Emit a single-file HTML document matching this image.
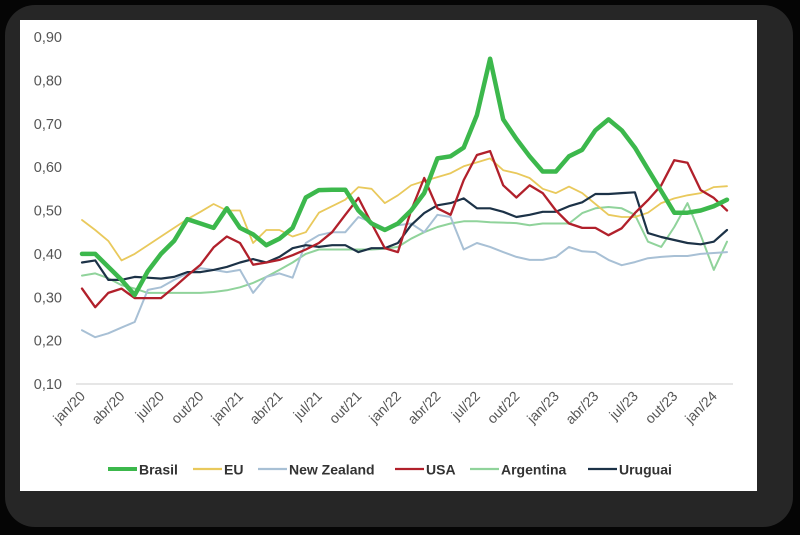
<!DOCTYPE html>
<html><head><meta charset="utf-8"><style>
html,body{margin:0;padding:0;background:#050505;width:800px;height:535px;overflow:hidden}
svg{display:block}
text{font-family:"Liberation Sans",sans-serif}
</style></head><body>
<svg id="chart" width="800" height="535" viewBox="0 0 800 535" xmlns="http://www.w3.org/2000/svg">
<rect x="5" y="5" width="788" height="522" rx="30" fill="#262626"/>
<rect x="20" y="20" width="737" height="471" fill="#ffffff"/>
<g id="axes"></g><g id="series"></g><g id="legend"></g>
</svg>
<script>
const months = ["jan","fev","mar","abr","mai","jun","jul","ago","set","out","nov","dez"];
const yTicks = [0.10,0.20,0.30,0.40,0.50,0.60,0.70,0.80,0.90];
const seriesNames = ["Argentina","New Zealand","EU","Uruguai","USA","Brasil"];
const brasil = [0.40,0.40,0.37,0.34,0.305,0.36,0.40,0.43,0.48,0.47,0.46,0.505,0.46,0.445,0.42,0.435,0.46,0.53,0.547,0.548,0.548,0.50,0.47,0.455,0.47,0.50,0.54,0.62,0.625,0.645,0.72,0.85,0.71,0.665,0.625,0.59,0.59,0.625,0.64,0.685,0.71,0.685,0.645,0.595,0.545,0.495,0.495,0.50,0.51,0.525];
const eu = [0.478,0.455,0.43,0.385,0.40,0.42,0.44,0.46,0.48,0.497,0.515,0.50,0.50,0.425,0.455,0.455,0.44,0.45,0.495,0.51,0.525,0.554,0.55,0.517,0.535,0.558,0.568,0.577,0.586,0.602,0.611,0.62,0.593,0.586,0.575,0.55,0.54,0.555,0.54,0.515,0.49,0.485,0.485,0.495,0.517,0.528,0.535,0.54,0.554,0.556];
const newZealand = [0.224,0.208,0.217,0.23,0.243,0.317,0.323,0.34,0.355,0.367,0.363,0.358,0.363,0.31,0.347,0.355,0.345,0.425,0.443,0.45,0.45,0.485,0.473,0.459,0.466,0.47,0.45,0.49,0.485,0.41,0.425,0.416,0.404,0.393,0.386,0.386,0.393,0.416,0.406,0.404,0.386,0.374,0.381,0.39,0.393,0.395,0.395,0.40,0.402,0.404];
const usa = [0.32,0.277,0.31,0.32,0.298,0.298,0.298,0.323,0.35,0.375,0.415,0.44,0.425,0.375,0.38,0.386,0.397,0.41,0.425,0.45,0.49,0.529,0.47,0.413,0.404,0.50,0.575,0.505,0.49,0.57,0.628,0.637,0.558,0.53,0.558,0.54,0.50,0.47,0.46,0.46,0.443,0.459,0.494,0.524,0.558,0.616,0.61,0.547,0.529,0.50];
const argentina = [0.35,0.355,0.344,0.328,0.32,0.31,0.31,0.31,0.31,0.31,0.312,0.316,0.323,0.333,0.347,0.363,0.38,0.40,0.41,0.41,0.41,0.41,0.41,0.412,0.416,0.435,0.45,0.462,0.47,0.475,0.475,0.473,0.472,0.471,0.466,0.47,0.47,0.47,0.494,0.505,0.508,0.505,0.49,0.428,0.416,0.462,0.517,0.443,0.363,0.428];
const uruguai = [0.38,0.385,0.34,0.34,0.347,0.345,0.343,0.347,0.358,0.358,0.363,0.37,0.38,0.388,0.38,0.393,0.413,0.42,0.416,0.42,0.42,0.404,0.413,0.413,0.425,0.466,0.494,0.512,0.517,0.528,0.505,0.505,0.497,0.485,0.49,0.497,0.497,0.51,0.519,0.538,0.538,0.54,0.542,0.448,0.439,0.432,0.425,0.422,0.428,0.455];

const NS="http://www.w3.org/2000/svg";
const X0=82, X1=727, Y0=384, Y1=37, VMIN=0.10, VMAX=0.90;
const N = brasil.length;
function xScale(i){return X0+(X1-X0)*i/(N-1);}
function yScale(v){return Y0-(v-VMIN)/(VMAX-VMIN)*(Y0-Y1);}
function mk(tag,attrs,parent){const e=document.createElementNS(NS,tag);for(const k in attrs)e.setAttribute(k,attrs[k]);parent.appendChild(e);return e;}
const axes=document.getElementById('axes');
const base=mk('line',{x1:76,x2:733,y1:yScale(yTicks[0]),y2:yScale(yTicks[0]),stroke:'#d6d6d6','stroke-width':1.2},axes);


yTicks.forEach(v=>{
  const t=mk('text',{x:62,y:yScale(v)+5,'text-anchor':'end','font-size':14.5,fill:'#555'},axes);
  t.textContent=v.toFixed(2).replace('.',',');
  
  
});
for(let i=0;i<N;i+=3){
  const yr=20+Math.floor(i/12), m=months[i%12];
  const x=xScale(i)+4, y=397;
  const t=mk('text',{x:x,y:y,'text-anchor':'end','font-size':14,fill:'#555',transform:`rotate(-45 ${x} ${y})`},axes);
  t.textContent=m+'/'+yr;
  
  
}
const styles={
  "Argentina":{data:argentina,c:'#90d39b',w:2},
  "New Zealand":{data:newZealand,c:'#a8c0d5',w:2},
  "EU":{data:eu,c:'#e9c95c',w:1.8},
  "Uruguai":{data:uruguai,c:'#1c3247',w:2.2},
  "USA":{data:usa,c:'#b1202b',w:2.3},
  "Brasil":{data:brasil,c:'#3cb84c',w:4.5}
};
const sg=document.getElementById('series');
seriesNames.forEach(name=>{
  const s=styles[name];
  const pts=s.data.map((v,i)=>xScale(i).toFixed(1)+','+yScale(v).toFixed(1)).join(' ');
  const p=mk('polyline',{points:pts,fill:'none',stroke:s.c,'stroke-width':s.w,'stroke-linejoin':'round','stroke-linecap':'round'},sg);
  
  
});
const legendOrder=["Brasil","EU","New Zealand","USA","Argentina","Uruguai"];
const legendX=[108,193,258,395,470,588];
const lg=document.getElementById('legend');
legendOrder.forEach((name,k)=>{
  const s=styles[name];
  const g=mk('g',{},lg);
  
  
  mk('line',{x1:legendX[k],x2:legendX[k]+29,y1:469,y2:469,stroke:s.c,'stroke-width':name==='Brasil'?4:2.2},g);
  const t=mk('text',{x:legendX[k]+31,y:474.5,'font-size':14,'font-weight':'bold',fill:'#333'},g);
  t.textContent=name;
});
</script>
</body></html>
